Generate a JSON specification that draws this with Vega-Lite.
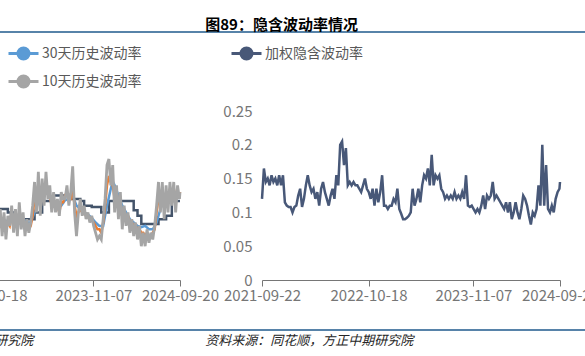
{
  "$schema": "https://vega.github.io/schema/vega-lite/v6.json",
  "usermeta": {"embedOptions": {"actions": false}},
  "background": "white",
  "autosize": {"type": "pad"},
  "padding": {"left": -175, "right": -56, "top": 18, "bottom": 0},
  "columns": 2,
  "bounds": "flush",
  "spacing": {"row": 50, "column": 0},
  "datasets": {
    "iv": [
      {"date": "2021-09-22", "value": 0.12}, {"date": "2021-09-29", "value": 0.165}, {"date": "2021-10-06", "value": 0.145}, {"date": "2021-10-13", "value": 0.15},
      {"date": "2021-10-20", "value": 0.14}, {"date": "2021-10-27", "value": 0.155}, {"date": "2021-11-03", "value": 0.145}, {"date": "2021-11-10", "value": 0.15},
      {"date": "2021-11-17", "value": 0.14}, {"date": "2021-11-24", "value": 0.155}, {"date": "2021-12-01", "value": 0.14}, {"date": "2021-12-08", "value": 0.155},
      {"date": "2021-12-15", "value": 0.115}, {"date": "2021-12-22", "value": 0.11}, {"date": "2021-12-29", "value": 0.108}, {"date": "2022-01-05", "value": 0.108},
      {"date": "2022-01-12", "value": 0.1}, {"date": "2022-01-19", "value": 0.108}, {"date": "2022-01-26", "value": 0.11}, {"date": "2022-02-02", "value": 0.125},
      {"date": "2022-02-09", "value": 0.135}, {"date": "2022-02-16", "value": 0.108}, {"date": "2022-02-23", "value": 0.12}, {"date": "2022-03-02", "value": 0.14},
      {"date": "2022-03-09", "value": 0.155}, {"date": "2022-03-16", "value": 0.14}, {"date": "2022-03-23", "value": 0.13}, {"date": "2022-03-30", "value": 0.135},
      {"date": "2022-04-06", "value": 0.12}, {"date": "2022-04-13", "value": 0.13}, {"date": "2022-04-20", "value": 0.11}, {"date": "2022-04-27", "value": 0.135},
      {"date": "2022-05-04", "value": 0.145}, {"date": "2022-05-11", "value": 0.13}, {"date": "2022-05-18", "value": 0.12}, {"date": "2022-05-25", "value": 0.11},
      {"date": "2022-06-01", "value": 0.125}, {"date": "2022-06-08", "value": 0.135}, {"date": "2022-06-15", "value": 0.12}, {"date": "2022-06-22", "value": 0.155},
      {"date": "2022-06-29", "value": 0.14}, {"date": "2022-07-06", "value": 0.2}, {"date": "2022-07-13", "value": 0.205}, {"date": "2022-07-20", "value": 0.17},
      {"date": "2022-07-27", "value": 0.195}, {"date": "2022-08-03", "value": 0.14}, {"date": "2022-08-10", "value": 0.145}, {"date": "2022-08-17", "value": 0.14},
      {"date": "2022-08-24", "value": 0.145}, {"date": "2022-08-31", "value": 0.14}, {"date": "2022-09-07", "value": 0.14}, {"date": "2022-09-14", "value": 0.135},
      {"date": "2022-09-21", "value": 0.13}, {"date": "2022-09-28", "value": 0.14}, {"date": "2022-10-05", "value": 0.15}, {"date": "2022-10-12", "value": 0.135},
      {"date": "2022-10-19", "value": 0.13}, {"date": "2022-10-26", "value": 0.12}, {"date": "2022-11-02", "value": 0.135}, {"date": "2022-11-09", "value": 0.11},
      {"date": "2022-11-16", "value": 0.135}, {"date": "2022-11-23", "value": 0.115}, {"date": "2022-11-30", "value": 0.13}, {"date": "2022-12-07", "value": 0.155},
      {"date": "2022-12-14", "value": 0.11}, {"date": "2022-12-21", "value": 0.11}, {"date": "2022-12-28", "value": 0.105}, {"date": "2023-01-04", "value": 0.11},
      {"date": "2023-01-11", "value": 0.11}, {"date": "2023-01-18", "value": 0.12}, {"date": "2023-01-25", "value": 0.115}, {"date": "2023-02-01", "value": 0.135},
      {"date": "2023-02-08", "value": 0.105}, {"date": "2023-02-15", "value": 0.098}, {"date": "2023-02-22", "value": 0.09}, {"date": "2023-03-01", "value": 0.09},
      {"date": "2023-03-08", "value": 0.092}, {"date": "2023-03-15", "value": 0.095}, {"date": "2023-03-22", "value": 0.1}, {"date": "2023-03-29", "value": 0.135},
      {"date": "2023-04-05", "value": 0.11}, {"date": "2023-04-12", "value": 0.12}, {"date": "2023-04-19", "value": 0.135}, {"date": "2023-04-26", "value": 0.115},
      {"date": "2023-05-03", "value": 0.14}, {"date": "2023-05-10", "value": 0.155}, {"date": "2023-05-17", "value": 0.15}, {"date": "2023-05-24", "value": 0.165},
      {"date": "2023-05-31", "value": 0.14}, {"date": "2023-06-07", "value": 0.185}, {"date": "2023-06-14", "value": 0.14}, {"date": "2023-06-21", "value": 0.155},
      {"date": "2023-06-28", "value": 0.15}, {"date": "2023-07-05", "value": 0.155}, {"date": "2023-07-12", "value": 0.135}, {"date": "2023-07-19", "value": 0.13},
      {"date": "2023-07-26", "value": 0.12}, {"date": "2023-08-02", "value": 0.125}, {"date": "2023-08-09", "value": 0.12}, {"date": "2023-08-16", "value": 0.125},
      {"date": "2023-08-23", "value": 0.12}, {"date": "2023-08-30", "value": 0.13}, {"date": "2023-09-06", "value": 0.12}, {"date": "2023-09-13", "value": 0.125},
      {"date": "2023-09-20", "value": 0.12}, {"date": "2023-09-27", "value": 0.13}, {"date": "2023-10-04", "value": 0.12}, {"date": "2023-10-11", "value": 0.155},
      {"date": "2023-10-18", "value": 0.11}, {"date": "2023-10-25", "value": 0.108}, {"date": "2023-11-01", "value": 0.11}, {"date": "2023-11-08", "value": 0.105},
      {"date": "2023-11-15", "value": 0.1}, {"date": "2023-11-22", "value": 0.105}, {"date": "2023-11-29", "value": 0.1}, {"date": "2023-12-06", "value": 0.11},
      {"date": "2023-12-13", "value": 0.125}, {"date": "2023-12-20", "value": 0.105}, {"date": "2023-12-27", "value": 0.125}, {"date": "2024-01-03", "value": 0.12},
      {"date": "2024-01-10", "value": 0.125}, {"date": "2024-01-17", "value": 0.145}, {"date": "2024-01-24", "value": 0.12}, {"date": "2024-01-31", "value": 0.125},
      {"date": "2024-02-07", "value": 0.12}, {"date": "2024-02-14", "value": 0.115}, {"date": "2024-02-21", "value": 0.11}, {"date": "2024-02-28", "value": 0.105},
      {"date": "2024-03-06", "value": 0.115}, {"date": "2024-03-13", "value": 0.1}, {"date": "2024-03-20", "value": 0.115}, {"date": "2024-03-27", "value": 0.09},
      {"date": "2024-04-03", "value": 0.1}, {"date": "2024-04-10", "value": 0.115}, {"date": "2024-04-17", "value": 0.1}, {"date": "2024-04-24", "value": 0.09},
      {"date": "2024-05-01", "value": 0.105}, {"date": "2024-05-08", "value": 0.125}, {"date": "2024-05-15", "value": 0.12}, {"date": "2024-05-22", "value": 0.11},
      {"date": "2024-05-29", "value": 0.095}, {"date": "2024-06-05", "value": 0.082}, {"date": "2024-06-12", "value": 0.1}, {"date": "2024-06-19", "value": 0.095},
      {"date": "2024-06-26", "value": 0.105}, {"date": "2024-07-03", "value": 0.14}, {"date": "2024-07-10", "value": 0.11}, {"date": "2024-07-17", "value": 0.2},
      {"date": "2024-07-24", "value": 0.11}, {"date": "2024-07-31", "value": 0.17}, {"date": "2024-08-07", "value": 0.105}, {"date": "2024-08-14", "value": 0.1},
      {"date": "2024-08-21", "value": 0.11}, {"date": "2024-08-28", "value": 0.1}, {"date": "2024-09-04", "value": 0.12}, {"date": "2024-09-11", "value": 0.13},
      {"date": "2024-09-18", "value": 0.135}, {"date": "2024-09-20", "value": 0.145}
    ],
    "h60": [
      {"date": "2022-11-02", "value": 0.105}, {"date": "2022-12-28", "value": 0.1}, {"date": "2023-01-25", "value": 0.09}, {"date": "2023-04-05", "value": 0.1},
      {"date": "2023-05-03", "value": 0.117}, {"date": "2023-06-14", "value": 0.125}, {"date": "2023-08-09", "value": 0.12}, {"date": "2023-09-20", "value": 0.117},
      {"date": "2023-10-04", "value": 0.11}, {"date": "2023-11-01", "value": 0.108}, {"date": "2023-12-06", "value": 0.1}, {"date": "2024-01-03", "value": 0.117},
      {"date": "2024-04-03", "value": 0.103}, {"date": "2024-04-17", "value": 0.095}, {"date": "2024-05-01", "value": 0.083}, {"date": "2024-07-03", "value": 0.09},
      {"date": "2024-07-31", "value": 0.095}, {"date": "2024-08-21", "value": 0.117}, {"date": "2024-09-20", "value": 0.117}
    ],
    "h30": [
      {"date": "2022-11-02", "value": 0.09}, {"date": "2022-11-16", "value": 0.088}, {"date": "2022-11-30", "value": 0.09}, {"date": "2022-12-14", "value": 0.088},
      {"date": "2022-12-28", "value": 0.087}, {"date": "2023-01-11", "value": 0.09}, {"date": "2023-01-25", "value": 0.09}, {"date": "2023-02-08", "value": 0.092},
      {"date": "2023-02-22", "value": 0.09}, {"date": "2023-03-08", "value": 0.085}, {"date": "2023-03-22", "value": 0.085}, {"date": "2023-04-05", "value": 0.1},
      {"date": "2023-04-19", "value": 0.115}, {"date": "2023-05-03", "value": 0.12}, {"date": "2023-05-17", "value": 0.13}, {"date": "2023-05-31", "value": 0.125},
      {"date": "2023-06-14", "value": 0.115}, {"date": "2023-06-28", "value": 0.108}, {"date": "2023-07-12", "value": 0.11}, {"date": "2023-07-26", "value": 0.118},
      {"date": "2023-08-09", "value": 0.12}, {"date": "2023-08-23", "value": 0.125}, {"date": "2023-09-06", "value": 0.11}, {"date": "2023-09-20", "value": 0.105},
      {"date": "2023-10-04", "value": 0.1}, {"date": "2023-10-18", "value": 0.097}, {"date": "2023-11-01", "value": 0.092}, {"date": "2023-11-15", "value": 0.085},
      {"date": "2023-11-29", "value": 0.08}, {"date": "2023-12-13", "value": 0.08}, {"date": "2023-12-27", "value": 0.11}, {"date": "2024-01-10", "value": 0.135},
      {"date": "2024-01-17", "value": 0.146}, {"date": "2024-01-24", "value": 0.14}, {"date": "2024-02-07", "value": 0.125}, {"date": "2024-02-21", "value": 0.11},
      {"date": "2024-03-06", "value": 0.1}, {"date": "2024-03-20", "value": 0.09}, {"date": "2024-04-03", "value": 0.085}, {"date": "2024-04-17", "value": 0.08},
      {"date": "2024-05-01", "value": 0.078}, {"date": "2024-05-15", "value": 0.08}, {"date": "2024-05-29", "value": 0.075}, {"date": "2024-06-12", "value": 0.075},
      {"date": "2024-06-26", "value": 0.085}, {"date": "2024-07-10", "value": 0.105}, {"date": "2024-07-24", "value": 0.12}, {"date": "2024-08-07", "value": 0.125},
      {"date": "2024-08-21", "value": 0.128}, {"date": "2024-09-04", "value": 0.125}, {"date": "2024-09-18", "value": 0.127}, {"date": "2024-09-20", "value": 0.128}
    ],
    "h20": [
      {"date": "2022-11-02", "value": 0.09}, {"date": "2022-11-09", "value": 0.085}, {"date": "2022-11-16", "value": 0.09}, {"date": "2022-11-23", "value": 0.08},
      {"date": "2022-11-30", "value": 0.09}, {"date": "2022-12-07", "value": 0.08}, {"date": "2022-12-14", "value": 0.085}, {"date": "2022-12-21", "value": 0.075},
      {"date": "2022-12-28", "value": 0.085}, {"date": "2023-01-04", "value": 0.08}, {"date": "2023-01-11", "value": 0.095}, {"date": "2023-01-18", "value": 0.085},
      {"date": "2023-01-25", "value": 0.09}, {"date": "2023-02-01", "value": 0.08}, {"date": "2023-02-08", "value": 0.1}, {"date": "2023-02-15", "value": 0.09},
      {"date": "2023-02-22", "value": 0.09}, {"date": "2023-03-01", "value": 0.08}, {"date": "2023-03-08", "value": 0.08}, {"date": "2023-03-15", "value": 0.075},
      {"date": "2023-03-22", "value": 0.08}, {"date": "2023-03-29", "value": 0.095}, {"date": "2023-04-05", "value": 0.12}, {"date": "2023-04-12", "value": 0.115},
      {"date": "2023-04-19", "value": 0.135}, {"date": "2023-04-26", "value": 0.12}, {"date": "2023-05-03", "value": 0.13}, {"date": "2023-05-10", "value": 0.125},
      {"date": "2023-05-17", "value": 0.146}, {"date": "2023-05-24", "value": 0.13}, {"date": "2023-05-31", "value": 0.125}, {"date": "2023-06-07", "value": 0.11},
      {"date": "2023-06-14", "value": 0.115}, {"date": "2023-06-21", "value": 0.105}, {"date": "2023-06-28", "value": 0.11}, {"date": "2023-07-05", "value": 0.1},
      {"date": "2023-07-12", "value": 0.115}, {"date": "2023-07-19", "value": 0.115}, {"date": "2023-07-26", "value": 0.125}, {"date": "2023-08-02", "value": 0.13},
      {"date": "2023-08-09", "value": 0.12}, {"date": "2023-08-16", "value": 0.12}, {"date": "2023-08-23", "value": 0.135}, {"date": "2023-08-30", "value": 0.11},
      {"date": "2023-09-06", "value": 0.095}, {"date": "2023-09-13", "value": 0.1}, {"date": "2023-09-20", "value": 0.105}, {"date": "2023-09-27", "value": 0.1},
      {"date": "2023-10-04", "value": 0.1}, {"date": "2023-10-11", "value": 0.095}, {"date": "2023-10-18", "value": 0.095}, {"date": "2023-10-25", "value": 0.09},
      {"date": "2023-11-01", "value": 0.09}, {"date": "2023-11-08", "value": 0.085}, {"date": "2023-11-15", "value": 0.08}, {"date": "2023-11-22", "value": 0.075},
      {"date": "2023-11-29", "value": 0.075}, {"date": "2023-12-06", "value": 0.07}, {"date": "2023-12-13", "value": 0.085}, {"date": "2023-12-20", "value": 0.11},
      {"date": "2023-12-27", "value": 0.14}, {"date": "2024-01-03", "value": 0.154}, {"date": "2024-01-10", "value": 0.145}, {"date": "2024-01-17", "value": 0.14},
      {"date": "2024-01-24", "value": 0.12}, {"date": "2024-01-31", "value": 0.13}, {"date": "2024-02-07", "value": 0.11}, {"date": "2024-02-14", "value": 0.11},
      {"date": "2024-02-21", "value": 0.095}, {"date": "2024-02-28", "value": 0.1}, {"date": "2024-03-06", "value": 0.09}, {"date": "2024-03-13", "value": 0.095},
      {"date": "2024-03-20", "value": 0.085}, {"date": "2024-03-27", "value": 0.085}, {"date": "2024-04-03", "value": 0.08}, {"date": "2024-04-10", "value": 0.08},
      {"date": "2024-04-17", "value": 0.075}, {"date": "2024-04-24", "value": 0.075}, {"date": "2024-05-01", "value": 0.07}, {"date": "2024-05-08", "value": 0.07},
      {"date": "2024-05-15", "value": 0.065}, {"date": "2024-05-22", "value": 0.07}, {"date": "2024-05-29", "value": 0.065}, {"date": "2024-06-05", "value": 0.065},
      {"date": "2024-06-12", "value": 0.07}, {"date": "2024-06-19", "value": 0.075}, {"date": "2024-06-26", "value": 0.1}, {"date": "2024-07-03", "value": 0.12},
      {"date": "2024-07-10", "value": 0.115}, {"date": "2024-07-17", "value": 0.13}, {"date": "2024-07-24", "value": 0.115}, {"date": "2024-07-31", "value": 0.125},
      {"date": "2024-08-07", "value": 0.12}, {"date": "2024-08-14", "value": 0.135}, {"date": "2024-08-21", "value": 0.125}, {"date": "2024-08-28", "value": 0.135},
      {"date": "2024-09-04", "value": 0.12}, {"date": "2024-09-11", "value": 0.13}, {"date": "2024-09-18", "value": 0.125}, {"date": "2024-09-20", "value": 0.13}
    ],
    "h10": [
      {"date": "2022-11-02", "value": 0.09}, {"date": "2022-11-09", "value": 0.075}, {"date": "2022-11-16", "value": 0.1}, {"date": "2022-11-23", "value": 0.07},
      {"date": "2022-11-30", "value": 0.105}, {"date": "2022-12-07", "value": 0.065}, {"date": "2022-12-14", "value": 0.1}, {"date": "2022-12-21", "value": 0.06},
      {"date": "2022-12-28", "value": 0.095}, {"date": "2023-01-04", "value": 0.08}, {"date": "2023-01-11", "value": 0.11}, {"date": "2023-01-18", "value": 0.07},
      {"date": "2023-01-25", "value": 0.105}, {"date": "2023-02-01", "value": 0.065}, {"date": "2023-02-08", "value": 0.115}, {"date": "2023-02-15", "value": 0.075},
      {"date": "2023-02-22", "value": 0.1}, {"date": "2023-03-01", "value": 0.065}, {"date": "2023-03-08", "value": 0.09}, {"date": "2023-03-15", "value": 0.07},
      {"date": "2023-03-22", "value": 0.085}, {"date": "2023-03-29", "value": 0.11}, {"date": "2023-04-05", "value": 0.145}, {"date": "2023-04-12", "value": 0.1},
      {"date": "2023-04-19", "value": 0.16}, {"date": "2023-04-26", "value": 0.095}, {"date": "2023-05-03", "value": 0.15}, {"date": "2023-05-10", "value": 0.11},
      {"date": "2023-05-17", "value": 0.16}, {"date": "2023-05-24", "value": 0.12}, {"date": "2023-05-31", "value": 0.14}, {"date": "2023-06-07", "value": 0.1},
      {"date": "2023-06-14", "value": 0.13}, {"date": "2023-06-21", "value": 0.1}, {"date": "2023-06-28", "value": 0.12}, {"date": "2023-07-05", "value": 0.095},
      {"date": "2023-07-12", "value": 0.13}, {"date": "2023-07-19", "value": 0.12}, {"date": "2023-07-26", "value": 0.12}, {"date": "2023-08-02", "value": 0.14},
      {"date": "2023-08-09", "value": 0.11}, {"date": "2023-08-16", "value": 0.13}, {"date": "2023-08-23", "value": 0.168}, {"date": "2023-08-30", "value": 0.1},
      {"date": "2023-09-06", "value": 0.065}, {"date": "2023-09-13", "value": 0.1}, {"date": "2023-09-20", "value": 0.12}, {"date": "2023-09-27", "value": 0.095},
      {"date": "2023-10-04", "value": 0.11}, {"date": "2023-10-11", "value": 0.09}, {"date": "2023-10-18", "value": 0.1}, {"date": "2023-10-25", "value": 0.085},
      {"date": "2023-11-01", "value": 0.095}, {"date": "2023-11-08", "value": 0.08}, {"date": "2023-11-15", "value": 0.07}, {"date": "2023-11-22", "value": 0.06},
      {"date": "2023-11-29", "value": 0.065}, {"date": "2023-12-06", "value": 0.06}, {"date": "2023-12-13", "value": 0.09}, {"date": "2023-12-20", "value": 0.12},
      {"date": "2023-12-27", "value": 0.17}, {"date": "2024-01-03", "value": 0.179}, {"date": "2024-01-10", "value": 0.14}, {"date": "2024-01-17", "value": 0.17},
      {"date": "2024-01-24", "value": 0.1}, {"date": "2024-01-31", "value": 0.14}, {"date": "2024-02-07", "value": 0.09}, {"date": "2024-02-14", "value": 0.13},
      {"date": "2024-02-21", "value": 0.075}, {"date": "2024-02-28", "value": 0.11}, {"date": "2024-03-06", "value": 0.08}, {"date": "2024-03-13", "value": 0.1},
      {"date": "2024-03-20", "value": 0.07}, {"date": "2024-03-27", "value": 0.09}, {"date": "2024-04-03", "value": 0.065}, {"date": "2024-04-10", "value": 0.085},
      {"date": "2024-04-17", "value": 0.06}, {"date": "2024-04-24", "value": 0.08}, {"date": "2024-05-01", "value": 0.05}, {"date": "2024-05-08", "value": 0.07},
      {"date": "2024-05-15", "value": 0.05}, {"date": "2024-05-22", "value": 0.075}, {"date": "2024-05-29", "value": 0.055}, {"date": "2024-06-05", "value": 0.07},
      {"date": "2024-06-12", "value": 0.06}, {"date": "2024-06-19", "value": 0.08}, {"date": "2024-06-26", "value": 0.11}, {"date": "2024-07-03", "value": 0.145},
      {"date": "2024-07-10", "value": 0.1}, {"date": "2024-07-17", "value": 0.145}, {"date": "2024-07-24", "value": 0.09}, {"date": "2024-07-31", "value": 0.14},
      {"date": "2024-08-07", "value": 0.1}, {"date": "2024-08-14", "value": 0.145}, {"date": "2024-08-21", "value": 0.11}, {"date": "2024-08-28", "value": 0.145},
      {"date": "2024-09-04", "value": 0.1}, {"date": "2024-09-11", "value": 0.14}, {"date": "2024-09-18", "value": 0.12}, {"date": "2024-09-20", "value": 0.13}
    ],
    "ruleRow": [{"k": 1}]
  },
  "concat": [
    {
      "width": 380, "height": 29,
      "data": {"name": "ruleRow"},
      "mark": {"type": "rule", "color": "#1F5A8C", "strokeWidth": 1.5},
      "encoding": {"y": {"field": "k", "type": "quantitative", "scale": {"domain": [0, 1]}, "axis": null}}
    },
    {
      "width": 380, "height": 29,
      "title": {"text": "图89：隐含波动率情况", "anchor": "start", "dx": -56, "offset": -2, "fontSize": 15, "fontWeight": "bold", "color": "#000000", "font": "Noto Sans CJK SC"},
      "data": {"name": "ruleRow"},
      "mark": {"type": "rule", "color": "#1F5A8C", "strokeWidth": 1.5},
      "encoding": {"y": {"field": "k", "type": "quantitative", "scale": {"domain": [0, 1]}, "axis": null}}
    },
    {
      "width": 298, "height": 169,
      "encoding": {
        "x": {"field": "date", "type": "temporal",
          "scale": {"type": "utc", "domain": [{"year": 2021, "month": 9, "date": 22, "utc": true}, {"year": 2024, "month": 9, "date": 20, "utc": true}]},
          "axis": {"format": "%Y-%m-%d", "values": [{"year": 2021, "month": 9, "date": 22, "utc": true}, {"year": 2022, "month": 10, "date": 18, "utc": true}, {"year": 2023, "month": 11, "date": 7, "utc": true}, {"year": 2024, "month": 9, "date": 20, "utc": true}]}},
        "y": {"field": "value", "type": "quantitative", "scale": {"domain": [0, 0.25]},
          "axis": {"values": [0, 0.05, 0.1, 0.15, 0.2, 0.25], "format": "~f"}}
      },
      "layer": [
        {
          "data": {"name": "h60"},
          "mark": {"type": "line", "strokeWidth": 2.5, "interpolate": "step-after"},
          "encoding": {"color": {"datum": "60天历史波动率", "type": "nominal",
            "scale": {"domain": ["60天历史波动率", "20天历史波动率", "30天历史波动率", "10天历史波动率"], "range": ["#44546A", "#ED7D31", "#5B9BD5", "#A5A5A5"]},
            "legend": {"title": null, "columns": 2, "gridAlign": "all", "legendX": -20, "legendY": -69,
              "encode": {"symbols": {"update": {"fill": {"signal": "datum.value === '30天历史波动率' ? '#5B9BD5' : datum.value === '10天历史波动率' ? '#A5A5A5' : datum.value === '20天历史波动率' ? '#ED7D31' : '#44546A'"}}}}}}}
        },
        {
          "data": {"name": "h30"},
          "mark": {"type": "line", "strokeWidth": 2.5},
          "encoding": {"color": {"datum": "30天历史波动率", "type": "nominal"}}
        },
        {
          "data": {"name": "h20"},
          "mark": {"type": "line", "strokeWidth": 2.5},
          "encoding": {"color": {"datum": "20天历史波动率", "type": "nominal"}}
        },
        {
          "data": {"name": "h10"},
          "mark": {"type": "line", "strokeWidth": 2.8},
          "encoding": {"color": {"datum": "10天历史波动率", "type": "nominal"}}
        }
      ]
    },
    {
      "width": 298, "height": 169,
      "data": {"name": "iv"},
      "mark": {"type": "line", "strokeWidth": 2.5},
      "encoding": {
        "x": {"field": "date", "type": "temporal",
          "scale": {"type": "utc", "domain": [{"year": 2021, "month": 9, "date": 22, "utc": true}, {"year": 2024, "month": 9, "date": 20, "utc": true}]},
          "axis": {"format": "%Y-%m-%d", "values": [{"year": 2021, "month": 9, "date": 22, "utc": true}, {"year": 2022, "month": 10, "date": 18, "utc": true}, {"year": 2023, "month": 11, "date": 7, "utc": true}, {"year": 2024, "month": 9, "date": 20, "utc": true}]}},
        "y": {"field": "value", "type": "quantitative", "scale": {"domain": [0, 0.25]},
          "axis": {"values": [0, 0.05, 0.1, 0.15, 0.2, 0.25], "format": "~f"}},
        "color": {"datum": "加权隐含波动率", "type": "nominal",
          "scale": {"domain": ["加权隐含波动率"], "range": ["#485878"]},
          "legend": {"title": null, "legendX": -27, "legendY": -69, "symbolFillColor": "#485878"}}
      }
    },
    {
      "width": 380, "height": 1,
      "title": {"text": "资料来源：同花顺，方正中期研究院", "orient": "bottom", "anchor": "start", "dx": -56, "offset": 4, "fontSize": 13, "fontStyle": "italic", "fontWeight": "normal", "color": "#262626", "font": "Noto Sans CJK SC"},
      "data": {"name": "ruleRow"},
      "mark": {"type": "rule", "color": "#1F5A8C", "strokeWidth": 1.5},
      "encoding": {"y": {"field": "k", "type": "quantitative", "scale": {"domain": [0, 1]}, "axis": null}}
    },
    {
      "width": 380, "height": 1,
      "title": {"text": "资料来源：同花顺，方正中期研究院", "orient": "bottom", "anchor": "start", "dx": -56, "offset": 4, "fontSize": 13, "fontStyle": "italic", "fontWeight": "normal", "color": "#262626", "font": "Noto Sans CJK SC"},
      "data": {"name": "ruleRow"},
      "mark": {"type": "rule", "color": "#1F5A8C", "strokeWidth": 1.5},
      "encoding": {"y": {"field": "k", "type": "quantitative", "scale": {"domain": [0, 1]}, "axis": null}}
    }
  ],
  "resolve": {"scale": {"x": "independent", "y": "independent", "color": "independent"}},
  "config": {
    "view": {"stroke": null},
    "font": "Noto Sans CJK SC",
    "axis": {"grid": false, "title": null, "labelFont": "Noto Sans CJK SC", "labelFontSize": 15, "labelColor": "#767676", "domainColor": "#767676", "tickColor": "#767676", "labelFlush": false, "labelOverlap": false, "labelBound": false},
    "axisX": {"tickSize": 6, "labelPadding": 2, "labelAngle": 0},
    "axisY": {"domain": false, "ticks": false, "labelPadding": 10},
    "legend": {"orient": "none", "padding": 0, "labelFont": "Noto Sans CJK SC", "labelFontSize": 14, "labelColor": "#595959", "symbolSize": 400, "symbolStrokeWidth": 3, "symbolType": "M-1.5,0L1.5,0M-0.55,0A0.55,0.55,0,1,1,0.55,0A0.55,0.55,0,1,1,-0.55,0Z", "labelOffset": 7, "rowPadding": 5, "columnPadding": 10}
  }
}
